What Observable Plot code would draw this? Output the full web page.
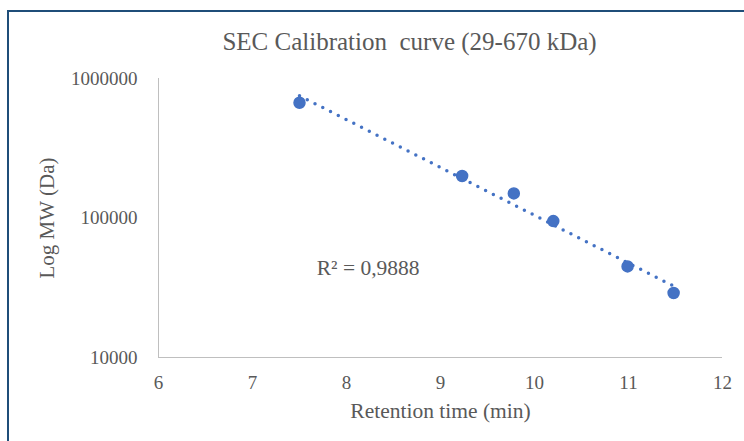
<!DOCTYPE html>
<html>
<head>
<meta charset="utf-8">
<script src="https://cdn.jsdelivr.net/npm/d3@7"></script>
<script src="https://cdn.jsdelivr.net/npm/@observablehq/plot@0.6"></script>
<style>
  html, body { margin: 0; padding: 0; background: #fff; }
  #wrap { position: relative; width: 744px; height: 441px; overflow: hidden; }
  #frame { position: absolute; left: 7px; top: 10px; width: 760px; height: 460px;
           border-left: 2px solid #1F4E79; border-top: 2px solid #1F4E79; pointer-events: none; }
  #wrap svg, #wrap svg text { font-family: "Liberation Serif", "DejaVu Serif", serif !important; }
</style>
</head>
<body>
<div id="wrap"><div id="frame"></div></div>
<script>
const retentionTime = [7.5, 9.23, 9.78, 10.2, 10.99, 11.48];
const molecularWeight = [670000, 200000, 150000, 95000, 45000, 29000];
const xTicks = [6, 7, 8, 9, 10, 11, 12];
const yTicks = [10000, 100000, 1000000];
const titleText = "SEC Calibration  curve (29-670 kDa)";
const r2Label = "R² = 0,9888";

const pts = retentionTime.map((t, i) => ({t, mw: molecularWeight[i]}));

// exponential trendline fit (least squares on ln(MW))
const n = pts.length;
const mx = d3.mean(pts, d => d.t);
const my = d3.mean(pts, d => Math.log(d.mw));
const b = d3.sum(pts, d => (d.t - mx) * (Math.log(d.mw) - my)) / d3.sum(pts, d => (d.t - mx) ** 2);
const a = my - b * mx;
const trendX = [retentionTime[0], retentionTime[n - 1]];
const trend = d3.range(0, 101).map(i => {
  const t = trendX[0] + (trendX[1] - trendX[0]) * i / 100;
  return {t, mw: Math.exp(a + b * t)};
});

const serif = "Liberation Serif";
const blue = "#4472C4";
const grey = "#595959";

const chart = Plot.plot({
  width: 744,
  height: 441,
  marginLeft: 158,
  marginRight: 22,
  marginTop: 78,
  marginBottom: 84,
  style: {fontFamily: serif, background: "transparent", overflow: "visible"},
  x: {domain: [6, 12], ticks: xTicks, tickSize: 0, label: null},
  y: {type: "log", domain: [10000, 1000000], ticks: yTicks, tickSize: 0, label: null},
  marks: [
    Plot.ruleX([6], {stroke: "#bfbfbf", strokeWidth: 1}),
    Plot.ruleY([10000], {stroke: "#bfbfbf", strokeWidth: 1}),
    Plot.axisX({ticks: xTicks, tickSize: 0, tickPadding: 18, fontSize: 19, fill: grey, tickFormat: d => String(d), label: null}),
    Plot.axisY({ticks: yTicks, tickSize: 0, tickPadding: 21, fontSize: 19, fill: grey, tickFormat: d => String(d), label: null}),
    Plot.line(trend, {x: "t", y: "mw", stroke: blue, strokeWidth: 3.5, strokeDasharray: "0 8.7", strokeLinecap: "round"}),
    Plot.dot(pts, {x: "t", y: "mw", r: 5.5, fill: blue, stroke: blue}),
    Plot.text([titleText], {frameAnchor: "top", dx: -31, dy: -46, fontSize: 25, fill: grey}),
    Plot.text(["Log MW (Da)"], {frameAnchor: "left", textAnchor: "middle", dx: -111, rotate: -90, fontSize: 21, fill: grey}),
    Plot.text(["Retention time (min)"], {frameAnchor: "bottom", dy: 60, fontSize: 21.5, fill: grey}),
    Plot.text([r2Label], {x: [8.23], y: [43500], fontSize: 21.5, fill: grey})
  ]
});
document.getElementById("wrap").appendChild(chart);
chart.style.position = "absolute";
chart.style.left = "0";
chart.style.top = "0";
</script>
</body>
</html>
